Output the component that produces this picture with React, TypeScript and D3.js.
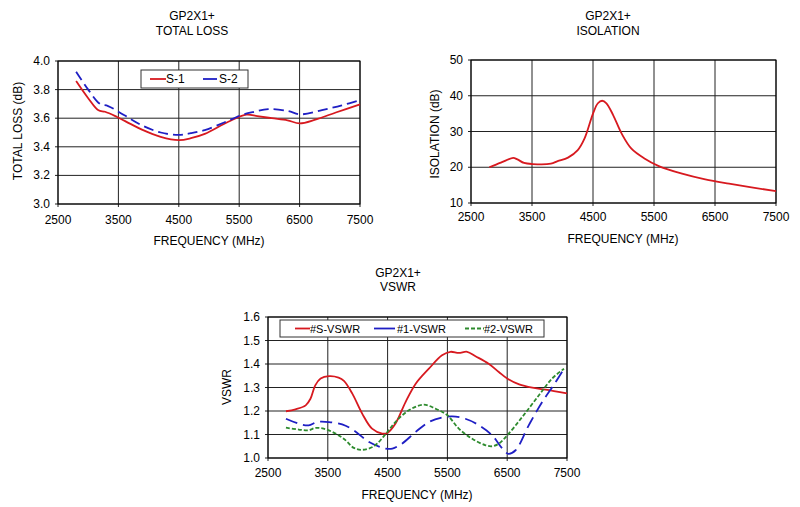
import React from "react";
import * as d3 from "d3";

// ---------- DATA ----------
const xTicks = [2500, 3500, 4500, 5500, 6500, 7500];

const lossTicks = [3.0, 3.2, 3.4, 3.6, 3.8, 4.0];
const lossS1: [number, number][] = [
  [2800, 3.86], [3000, 3.74], [3170, 3.655], [3280, 3.645], [3470, 3.61], [3700, 3.56],
  [3890, 3.52], [4200, 3.47], [4500, 3.447], [4700, 3.46], [4930, 3.49], [5320, 3.575],
  [5620, 3.625], [5800, 3.615], [6040, 3.60], [6300, 3.585], [6500, 3.564], [6760, 3.59],
  [7100, 3.64], [7500, 3.697],
];
const lossS2: [number, number][] = [
  [2800, 3.925], [3000, 3.80], [3195, 3.70], [3330, 3.685], [3600, 3.62], [3890, 3.55],
  [4200, 3.50], [4500, 3.483], [4700, 3.495], [4930, 3.517], [5250, 3.57], [5540, 3.622],
  [5750, 3.645], [5980, 3.664], [6310, 3.65], [6510, 3.627], [6870, 3.657], [7200, 3.69],
  [7500, 3.727],
];

const isoTicks = [10, 20, 30, 40, 50];
const isolation: [number, number][] = [
  [2800, 20.0], [2990, 21.3], [3190, 22.6], [3260, 22.2], [3370, 21.2], [3510, 20.9],
  [3810, 21.0], [3920, 21.7], [4090, 22.7], [4250, 24.8], [4360, 28.0], [4500, 35.0],
  [4580, 37.9], [4650, 38.6], [4720, 37.9], [4830, 34.6], [4970, 29.4], [5130, 25.2],
  [5350, 22.4], [5570, 20.4], [5960, 18.2], [6340, 16.6], [6730, 15.4], [7500, 13.3],
];

const vswrTicks = [1.0, 1.1, 1.2, 1.3, 1.4, 1.5, 1.6];
const vswrS: [number, number][] = [
  [2800, 1.199], [2960, 1.207], [3130, 1.224], [3210, 1.252], [3290, 1.309], [3380, 1.338],
  [3520, 1.348], [3680, 1.342], [3770, 1.328], [3910, 1.274], [4075, 1.189], [4240, 1.125],
  [4410, 1.104], [4490, 1.106], [4630, 1.146], [4800, 1.238], [4970, 1.316], [5190, 1.38],
  [5410, 1.437], [5550, 1.452], [5690, 1.447], [5830, 1.452], [5970, 1.433], [6190, 1.401],
  [6360, 1.366], [6500, 1.338], [6700, 1.313], [6920, 1.299], [7140, 1.291], [7500, 1.275],
];
const vswr1: [number, number][] = [
  [2800, 1.167], [3015, 1.146], [3180, 1.139], [3320, 1.153], [3520, 1.153], [3740, 1.143],
  [3935, 1.118], [4190, 1.068], [4470, 1.040], [4580, 1.040], [4740, 1.061], [4970, 1.111],
  [5190, 1.153], [5410, 1.172], [5580, 1.177], [5800, 1.167], [6030, 1.139], [6250, 1.096],
  [6420, 1.040], [6520, 1.018], [6640, 1.033], [6860, 1.139], [7085, 1.238], [7310, 1.323],
  [7450, 1.380],
];
const vswr2: [number, number][] = [
  [2800, 1.129], [3015, 1.121], [3180, 1.118], [3290, 1.128], [3430, 1.125], [3630, 1.104],
  [3800, 1.075], [3935, 1.043], [4075, 1.035], [4270, 1.050], [4465, 1.101], [4630, 1.153],
  [4855, 1.203], [5105, 1.227], [5300, 1.210], [5500, 1.182], [5690, 1.125], [5915, 1.082],
  [6140, 1.054], [6250, 1.050], [6360, 1.061], [6500, 1.096], [6750, 1.174], [7030, 1.267],
  [7250, 1.338], [7450, 1.380],
];

const RED = "#d7191f";
const BLUE = "#1f1fc4";
const GREEN = "#2e8b2e";
const FONT = "'Liberation Sans', Arial, sans-serif";

type Series = { name: string; data: [number, number][]; color: string; dash?: string; legendDash?: string };
type Cfg = {
  title: string[];
  titleX: number;
  titleY: number[];
  left: number; right: number; top: number; bottom: number;
  yDomain: [number, number];
  yTicks: number[];
  yFmt: (v: number) => string;
  yTitle: string;
  yTitleX: number;
  yTitleY: number;
  xTitleX: number;
  xTitleY: number;
  xLabelY: number;
  series: Series[];
  legend?: { x0: number; x1: number; y0: number; y1: number; items: { sx: number; sw: number; tx: number }[]; fs: number };
};

function Chart({ c }: { c: Cfg }) {
  const x = d3.scaleLinear().domain([2500, 7500]).range([c.left, c.right]);
  const y = d3.scaleLinear().domain(c.yDomain).range([c.bottom, c.top]);
  const line = d3
    .line<[number, number]>()
    .x((d) => x(d[0]))
    .y((d) => y(d[1]))
    .curve(d3.curveCatmullRom.alpha(0.5));
  return (
    <g fontFamily={FONT} fill="#000">
      {c.title.map((t, i) => (
        <text key={i} x={c.titleX} y={c.titleY[i]} fontSize={12} textAnchor="middle">{t}</text>
      ))}
      {xTicks.map((t) => (
        <line key={"gx" + t} x1={x(t)} x2={x(t)} y1={c.top} y2={c.bottom + 3} stroke="#222" strokeWidth={1} />
      ))}
      {c.yTicks.map((t) => (
        <line key={"gy" + t} x1={c.left - 3} x2={c.right} y1={y(t)} y2={y(t)} stroke="#222" strokeWidth={1} />
      ))}
      <rect x={c.left} y={c.top} width={c.right - c.left} height={c.bottom - c.top} fill="none" stroke="#000" strokeWidth={1} />
      {xTicks.map((t) => (
        <text key={"lx" + t} x={x(t)} y={c.xLabelY} fontSize={12} textAnchor="middle">{t}</text>
      ))}
      {c.yTicks.map((t) => (
        <text key={"ly" + t} x={c.left - 8} y={y(t) + 4} fontSize={12} textAnchor="end">{c.yFmt(t)}</text>
      ))}
      <text x={c.xTitleX} y={c.xTitleY} fontSize={12} textAnchor="middle">FREQUENCY (MHz)</text>
      <text
        x={0}
        y={0}
        fontSize={12}
        textAnchor="middle"
        transform={`translate(${c.yTitleX},${c.yTitleY}) rotate(-90)`}
      >
        {c.yTitle}
      </text>
      {c.series.map((s) => (
        <path key={s.name} d={line(s.data) || ""} fill="none" stroke={s.color} strokeWidth={1.8} strokeDasharray={s.dash} />
      ))}
      {c.legend && (
        <g>
          <rect
            x={c.legend.x0}
            y={c.legend.y0}
            width={c.legend.x1 - c.legend.x0}
            height={c.legend.y1 - c.legend.y0}
            fill="#fff"
            stroke="#333"
            strokeWidth={1}
          />
          {c.series.map((s, i) => {
            const it = c.legend!.items[i];
            const cy = (c.legend!.y0 + c.legend!.y1) / 2;
            return (
              <g key={"lg" + s.name}>
                <line x1={it.sx} x2={it.sx + it.sw} y1={cy} y2={cy} stroke={s.color} strokeWidth={1.8} strokeDasharray={s.legendDash} />
                <text x={it.tx} y={cy + 4} fontSize={c.legend!.fs}>{s.name}</text>
              </g>
            );
          })}
        </g>
      )}
    </g>
  );
}

const lossCfg: Cfg = {
  title: ["GP2X1+", "TOTAL LOSS"],
  titleX: 192,
  titleY: [20, 35],
  left: 58, right: 360, top: 61, bottom: 204,
  yDomain: [3.0, 4.0],
  yTicks: lossTicks,
  yFmt: (v) => v.toFixed(1),
  yTitle: "TOTAL LOSS (dB)",
  yTitleX: 22,
  yTitleY: 131,
  xTitleX: 209,
  xTitleY: 245,
  xLabelY: 224,
  series: [
    { name: "S-1", data: lossS1, color: RED },
    { name: "S-2", data: lossS2, color: BLUE, dash: "10,5" },
  ],
  legend: {
    x0: 141, x1: 248, y0: 70, y1: 88, fs: 12,
    items: [
      { sx: 150, sw: 16, tx: 166 },
      { sx: 203, sw: 14, tx: 219 },
    ],
  },
};

const isoCfg: Cfg = {
  title: ["GP2X1+", "ISOLATION"],
  titleX: 608,
  titleY: [20, 35],
  left: 471, right: 776, top: 60, bottom: 203,
  yDomain: [10, 50],
  yTicks: isoTicks,
  yFmt: (v) => String(v),
  yTitle: "ISOLATION (dB)",
  yTitleX: 439,
  yTitleY: 134,
  xTitleX: 623,
  xTitleY: 243,
  xLabelY: 221,
  series: [{ name: "ISO", data: isolation, color: RED }],
};

const vswrCfg: Cfg = {
  title: ["GP2X1+", "VSWR"],
  titleX: 398,
  titleY: [277, 291],
  left: 268, right: 567, top: 317, bottom: 458,
  yDomain: [1.0, 1.6],
  yTicks: vswrTicks,
  yFmt: (v) => v.toFixed(1),
  yTitle: "VSWR",
  yTitleX: 231,
  yTitleY: 387,
  xTitleX: 417,
  xTitleY: 499,
  xLabelY: 477,
  series: [
    { name: "#S-VSWR", data: vswrS, color: RED },
    { name: "#1-VSWR", data: vswr1, color: BLUE, dash: "12,6" },
    { name: "#2-VSWR", data: vswr2, color: GREEN, dash: "4,2", legendDash: "4,2" },
  ],
  legend: {
    x0: 280, x1: 544, y0: 320, y1: 337, fs: 11,
    items: [
      { sx: 295, sw: 15, tx: 310 },
      { sx: 374, sw: 21, tx: 397 },
      { sx: 465, sw: 19, tx: 484 },
    ],
  },
};

export default function App() {
  return (
    <svg
      width={800}
      height={507}
      viewBox="0 0 800 507"
      style={{ position: "absolute", left: 0, top: 0, background: "#fff" }}
    >
      <rect width={800} height={507} fill="#fff" />
      <Chart c={lossCfg} />
      <Chart c={isoCfg} />
      <Chart c={vswrCfg} />
    </svg>
  );
}
